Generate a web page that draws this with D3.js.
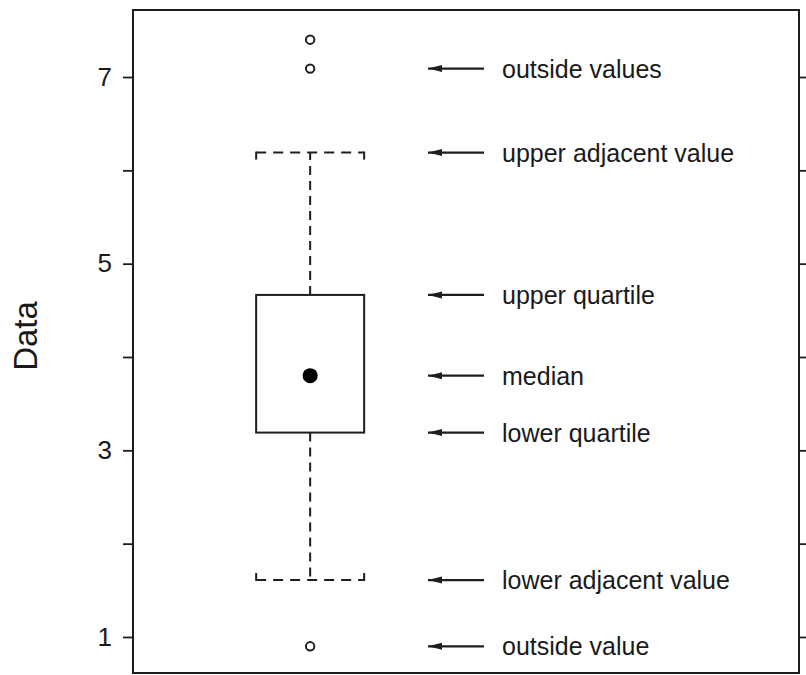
<!DOCTYPE html>
<html>
<head>
<meta charset="utf-8">
<script src="https://cdn.jsdelivr.net/npm/d3@7"></script>
<style>
  html, body { margin: 0; padding: 0; background: #fff; }
  svg { display: block; }
  text { font-family: "Liberation Sans", Arial, Helvetica, sans-serif; fill: #1a1a1a; }
</style>
</head>
<body>
<svg id="chart" width="806" height="675"></svg>
<script>
// ---- data ----
const tickValues = [1, 2, 3, 4, 5, 6, 7];
const tickLabels = ["1", "", "3", "", "5", "", "7"];
const boxStats = { lowerAdjacent: 1.61, lowerQuartile: 3.19, median: 3.80, upperQuartile: 4.665, upperAdjacent: 6.19 };
const outsideValues = [7.40, 7.09, 0.90];
const annotationLabels = ["outside values", "upper adjacent value", "upper quartile", "median", "lower quartile", "lower adjacent value", "outside value"];
const annotationValues = [7.09, 6.19, 4.665, 3.80, 3.19, 1.61, 0.90];
const yTitle = "Data";

// ---- layout ----
const svg = d3.select("#chart");
const mLeft = 133, mRight = 799, mTop = 10, mBottom = 673;
const y = d3.scaleLinear().domain([0.614, 7.718]).range([mBottom, mTop]);
const x = d3.scaleLinear().domain([0, 1]).range([mLeft, mRight]);
const boxCenter = x(0.266), boxHalf = 54;
const ink = "#1e1e1e";

// frame
svg.append("rect").attr("x", mLeft).attr("y", mTop).attr("width", mRight - mLeft).attr("height", mBottom - mTop)
  .attr("fill", "none").attr("stroke", ink).attr("stroke-width", 2);

// left axis
const leftAxis = d3.axisLeft(y).tickValues(tickValues).tickSize(10).tickPadding(11)
  .tickFormat((d, i) => tickLabels[i]);
const gl = svg.append("g").attr("transform", `translate(${mLeft},0)`).call(leftAxis);
gl.select(".domain").remove();
gl.selectAll(".tick line").attr("stroke", ink).attr("stroke-width", 1.8);
gl.selectAll(".tick text").attr("font-size", 26).attr("fill", "#1a1a1a")
  .attr("font-family", "'Liberation Sans', Arial, sans-serif");

// right axis (ticks outward)
const rightAxis = d3.axisRight(y).tickValues(tickValues).tickSize(8).tickFormat("");
const gr = svg.append("g").attr("transform", `translate(${mRight},0)`).call(rightAxis);
gr.select(".domain").remove();
gr.selectAll(".tick line").attr("stroke", ink).attr("stroke-width", 1.8);

// y title
svg.append("text").attr("transform", `translate(37,336) rotate(-90)`)
  .attr("text-anchor", "middle").attr("font-size", 33).text(yTitle);

// whiskers (dashed)
const dash = "9,6";
svg.append("line").attr("x1", boxCenter).attr("x2", boxCenter)
  .attr("y1", y(boxStats.upperQuartile)).attr("y2", y(boxStats.upperAdjacent))
  .attr("stroke", ink).attr("stroke-width", 2).attr("stroke-dasharray", dash);
svg.append("line").attr("x1", boxCenter).attr("x2", boxCenter)
  .attr("y1", y(boxStats.lowerQuartile)).attr("y2", y(boxStats.lowerAdjacent))
  .attr("stroke", ink).attr("stroke-width", 2).attr("stroke-dasharray", dash);

// caps: dashed horizontal + solid short ends
const capEnd = 7;
const caps = [
  { yv: boxStats.upperAdjacent, dir: 1 },
  { yv: boxStats.lowerAdjacent, dir: -1 }
];
caps.forEach(c => {
  const cy = y(c.yv);
  svg.append("line").attr("x1", boxCenter - boxHalf).attr("x2", boxCenter + boxHalf)
    .attr("y1", cy).attr("y2", cy)
    .attr("stroke", ink).attr("stroke-width", 2).attr("stroke-dasharray", "10,7");
  [boxCenter - boxHalf, boxCenter + boxHalf].forEach(xx => {
    svg.append("line").attr("x1", xx).attr("x2", xx)
      .attr("y1", cy - c.dir).attr("y2", cy + c.dir * capEnd)
      .attr("stroke", ink).attr("stroke-width", 2);
  });
});

// box
svg.append("rect").attr("x", boxCenter - boxHalf).attr("width", 2 * boxHalf)
  .attr("y", y(boxStats.upperQuartile)).attr("height", y(boxStats.lowerQuartile) - y(boxStats.upperQuartile))
  .attr("fill", "none").attr("stroke", ink).attr("stroke-width", 2);

// median dot
svg.append("circle").attr("cx", boxCenter).attr("cy", y(boxStats.median)).attr("r", 7.5).attr("fill", "#000");

// outside values
svg.selectAll("circle.out").data(outsideValues).join("circle").attr("class", "out")
  .attr("cx", boxCenter).attr("cy", d => y(d)).attr("r", 4.2)
  .attr("fill", "none").attr("stroke", ink).attr("stroke-width", 2);

// annotation arrows
svg.append("defs").append("marker").attr("id", "ah").attr("viewBox", "0 0 14 8")
  .attr("refX", 0).attr("refY", 4).attr("markerWidth", 14).attr("markerHeight", 8)
  .attr("markerUnits", "userSpaceOnUse").attr("orient", "auto")
  .append("path").attr("d", "M0,4L14,0.5L14,7.5Z").attr("fill", ink);

const ann = svg.selectAll("g.ann").data(annotationLabels).join("g").attr("class", "ann")
  .attr("transform", (d, i) => `translate(0,${y(annotationValues[i])})`);
ann.append("line").attr("x1", 428).attr("x2", 484).attr("y1", 0).attr("y2", 0)
  .attr("stroke", ink).attr("stroke-width", 2.2).attr("marker-start", "url(#ah)");
ann.append("text").attr("x", 502).attr("y", 0).attr("dy", "0.36em")
  .attr("font-size", 25).text(d => d);
</script>
</body>
</html>
